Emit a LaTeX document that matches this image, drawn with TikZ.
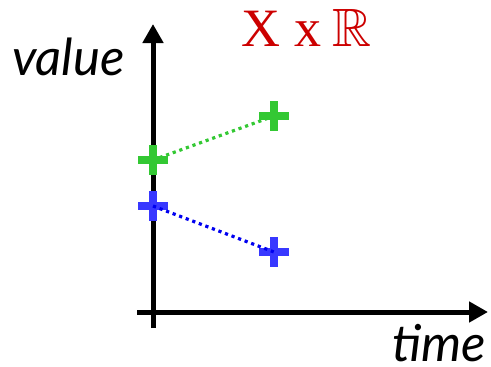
\documentclass[tikz,border=0pt]{standalone}
\usepackage{amssymb}
\usepackage{fontspec}
\setmainfont{Liberation Serif}
\newfontfamily\handfont{Lato}
\usetikzlibrary{arrows.meta}
\definecolor{myred}{RGB}{204,0,0}
\definecolor{mygreen}{RGB}{51,200,51}
\definecolor{myblue}{RGB}{56,56,255}
\definecolor{dotblue}{RGB}{0,0,240}
\begin{document}
\begin{tikzpicture}[x=1pt,y=-1pt,
  axis/.style={line width=5pt,-{Triangle[length=19pt,width=20pt]}},
  plusmark/.style={minimum size=30pt,inner sep=0pt,outer sep=0pt,
    path picture={\draw[line width=8pt,#1] (path picture bounding box.north) -- (path picture bounding box.south)
      (path picture bounding box.west) -- (path picture bounding box.east);}},
  conn/.style={line width=3.2pt,dash pattern=on 3.2pt off 3.8pt},
  label/.style={font=\handfont\itshape\fontsize{51}{51}\selectfont,inner sep=3pt,anchor=base west}]
\useasboundingbox (0,0) rectangle (491,367);
\coordinate (ybot) at (153,328);
\coordinate (ytop) at (153,24);
\coordinate (xl) at (137,312);
\coordinate (xr) at (488,312);
\draw[axis] (ybot) -- (ytop);
\draw[axis] (xl) -- (xr);
\node[label] (value) at (9,75) {value};
\node[label] (time) at (389,361) {time};
\node[font=\fontsize{54}{54}\selectfont,text=myred,inner sep=3pt,anchor=base west] (set) at (238,46) {X\hspace{0.26em}x\hspace{0.2em}$\mathbb{R}$};
\node[plusmark=mygreen] (g1) at (153,160) {};
\node[plusmark=mygreen] (g2) at (274,116) {};
\node[plusmark=myblue] (b1) at (153,206) {};
\node[plusmark=myblue] (b2) at (274,252) {};
\draw[conn,mygreen] (g1.center) -- (g2.center);
\draw[conn,dotblue] (b1.center) -- (b2.center);
\end{tikzpicture}
\end{document}
